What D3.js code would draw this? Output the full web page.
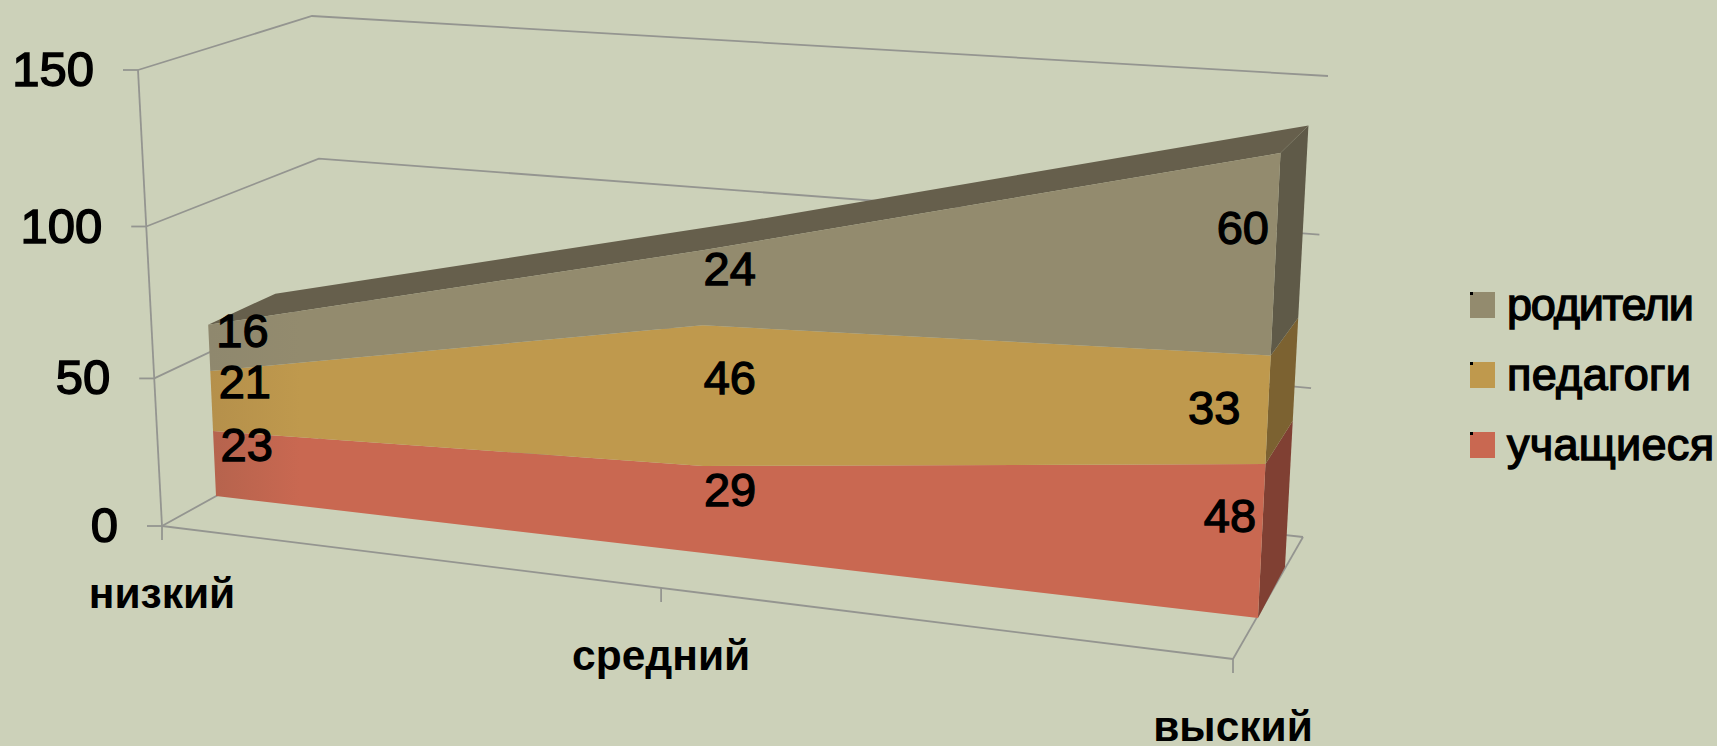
<!DOCTYPE html>
<html lang="ru">
<head>
<meta charset="utf-8">
<script src="https://cdn.jsdelivr.net/npm/d3@7"></script>
<style>
  html, body { margin: 0; padding: 0; background: #ccd1b9; overflow: hidden; }
  svg { display: block; font-family: "Liberation Sans", Arial, sans-serif; }
</style>
</head>
<body>
<div id="chart"></div>
<script>
// data
const categories = ["низкий", "средний", "выский"];
const seriesNames = ["учащиеся", "педагоги", "родители"];
const pupils = [23, 29, 48];
const teachers = [21, 46, 33];
const parents = [16, 24, 60];
const valueTicks = [0, 50, 100, 150];

const seriesColors = ["#c96851", "#bf994d", "#938b6e"];
const shadeColors = ["#b5634d", "#b5904b", "#8f886e"];
const sideColors = ["#804033", "#7c6231", "#5f5a48"];
const topColor = "#665f4c";
const axisColor = "#949590";

const width = 1717, height = 746;

// corners of the projected planes: [t=0 v=0, t=1 v=0, t=1 v=max, t=0 v=max]
const boxFrontQuad = [[162, 526], [1233, 659], [1261, 140], [138, 70]];
const boxBackQuad = [[332, 432], [1303, 537], [1328, 76], [312, 16]];
const areaFrontQuad = [[216, 496], [1258, 618], [1282, 122], [196, 58]];
const areaBackQuad = [[282, 452], [1285, 567], [1310, 96], [265, 47]];

// unit square -> quad
function homography(q) {
  const [[x0, y0], [x1, y1], [x2, y2], [x3, y3]] = q;
  const dx1 = x1 - x2, dx2 = x3 - x2, sx = x0 - x1 + x2 - x3;
  const dy1 = y1 - y2, dy2 = y3 - y2, sy = y0 - y1 + y2 - y3;
  const den = dx1 * dy2 - dx2 * dy1;
  const g = (sx * dy2 - dx2 * sy) / den;
  const h = (dx1 * sy - sx * dy1) / den;
  const a = x1 - x0 + g * x1, b = x3 - x0 + h * x3;
  const d = y1 - y0 + g * y1, e = y3 - y0 + h * y3;
  return (u, v) => {
    const w = g * u + h * v + 1;
    return [(a * u + b * v + x0) / w, (d * u + e * v + y0) / w];
  };
}

const x = d3.scalePoint().domain(categories).range([0, 1]);
const y = d3.scaleLinear().domain([0, 150]).range([0, 1]);

const boxFront = homography(boxFrontQuad);
const boxBack = homography(boxBackQuad);
const areaFront = homography(areaFrontQuad);
const areaBack = homography(areaBackQuad);

const table = categories.map((c, i) => ({
  category: c,
  [seriesNames[0]]: pupils[i],
  [seriesNames[1]]: teachers[i],
  [seriesNames[2]]: parents[i]
}));
const stacked = d3.stack().keys(seriesNames)(table);

const svg = d3.select("#chart").append("svg")
  .attr("width", width)
  .attr("height", height);

const defs = svg.append("defs");
seriesNames.forEach((s, i) => {
  const grad = defs.append("linearGradient")
    .attr("id", `shade${i}`)
    .attr("gradientUnits", "userSpaceOnUse")
    .attr("x1", 210).attr("x2", 300).attr("y1", 0).attr("y2", 0);
  grad.append("stop").attr("offset", 0).attr("stop-color", shadeColors[i]);
  grad.append("stop").attr("offset", 1).attr("stop-color", seriesColors[i]);
});

const poly = pts => d3.line()(pts) + "Z";
const grid = svg.append("g")
  .attr("fill", "none")
  .attr("stroke", axisColor)
  .attr("stroke-width", 1.8);

// walls and floor
valueTicks.forEach(v => {
  grid.append("path").attr("d", d3.line()([
    boxFront(0, y(v)), boxBack(0, y(v)), boxBack(1, y(v))
  ]));
});
grid.append("path").attr("d", d3.line()([boxFront(1, 0), boxBack(1, 0)]));

// side faces at the last category
const last = categories[categories.length - 1];
stacked.forEach((layer, i) => {
  const d = layer[layer.length - 1];
  svg.append("path")
    .attr("d", poly([
      areaFront(x(last), y(d[0])), areaBack(x(last), y(d[0])),
      areaBack(x(last), y(d[1])), areaFront(x(last), y(d[1]))
    ]))
    .attr("fill", sideColors[i]);
});

// top face
const topLayer = stacked[stacked.length - 1];
svg.append("path")
  .attr("d", poly([
    ...categories.map((c, i) => areaFront(x(c), y(topLayer[i][1]))),
    ...categories.map((c, i) => areaBack(x(c), y(topLayer[i][1]))).reverse()
  ]))
  .attr("fill", topColor);

// front faces
svg.append("g").selectAll("path")
  .data(stacked)
  .join("path")
  .attr("d", layer => poly([
    ...categories.map((c, i) => areaFront(x(c), y(layer[i][0]))),
    ...categories.map((c, i) => areaFront(x(c), y(layer[i][1]))).reverse()
  ]))
  .attr("fill", (d, i) => `url(#shade${i})`);

// value axis
const axis = svg.append("g")
  .attr("fill", "none")
  .attr("stroke", axisColor)
  .attr("stroke-width", 1.8);
axis.append("path").attr("d", d3.line()([boxFront(0, y(150)), boxFront(0, 0)]));
axis.append("path").attr("d", d3.line()([boxFront(0, 0), boxFront(1, 0)]));

const tickLen = 15, catTickLen = 14;
valueTicks.forEach(v => {
  const [px, py] = boxFront(0, y(v));
  axis.append("path").attr("d", d3.line()([[px - tickLen, py], [px, py]]));
  svg.append("text")
    .attr("x", px - tickLen - 29)
    .attr("y", py + 16)
    .attr("text-anchor", "end")
    .attr("font-size", 49)
    .attr("stroke", "#000")
    .attr("stroke-width", 1.5)
    .attr("fill", "#000")
    .text(v);
});

// category axis
categories.forEach(c => {
  const [px, py] = boxFront(x(c), 0);
  axis.append("path").attr("d", d3.line()([[px, py], [px, py + catTickLen]]));
  svg.append("text")
    .attr("x", px)
    .attr("y", py + catTickLen + 68)
    .attr("text-anchor", "middle")
    .attr("font-size", 42.5)
    .attr("font-weight", "bold")
    .attr("fill", "#000")
    .text(c);
});

// data labels, placed in value units along each column
const labelHeights = [[18, 21, 32], [40, 58, 65], [58, 93, 119]];
const labelShifts = [[33, 27, -33], [34, 27, -54], [34, 27, -34]];
stacked.forEach((layer, s) => {
  layer.forEach((d, i) => {
    const [px, py] = areaFront(x(categories[i]), y(labelHeights[s][i]));
    svg.append("text")
      .attr("x", px + labelShifts[s][i])
      .attr("y", py + 16)
      .attr("text-anchor", "middle")
      .attr("font-size", 47)
      .attr("stroke", "#000")
      .attr("stroke-width", 1.3)
      .attr("fill", "#000")
      .text(d[1] - d[0]);
  });
});

// legend
const legendY = d3.scalePoint()
  .domain(seriesNames.slice().reverse())
  .range([318, 458]);
const legendWidths = [207, 184, 187];
seriesNames.forEach((s, i) => {
  const ly = legendY(s);
  svg.append("rect")
    .attr("x", 1470).attr("y", ly - 26)
    .attr("width", 25).attr("height", 26)
    .attr("fill", seriesColors[i]);
  svg.append("rect")
    .attr("x", 1470).attr("y", ly - 26)
    .attr("width", 3).attr("height", 3)
    .attr("fill", "#000");
  svg.append("text")
    .attr("x", 1507)
    .attr("y", ly + 2)
    .attr("font-size", 45)
    .attr("textLength", legendWidths[i])
    .attr("stroke", "#000")
    .attr("stroke-width", 1.4)
    .attr("fill", "#000")
    .text(s);
});
</script>
</body>
</html>
